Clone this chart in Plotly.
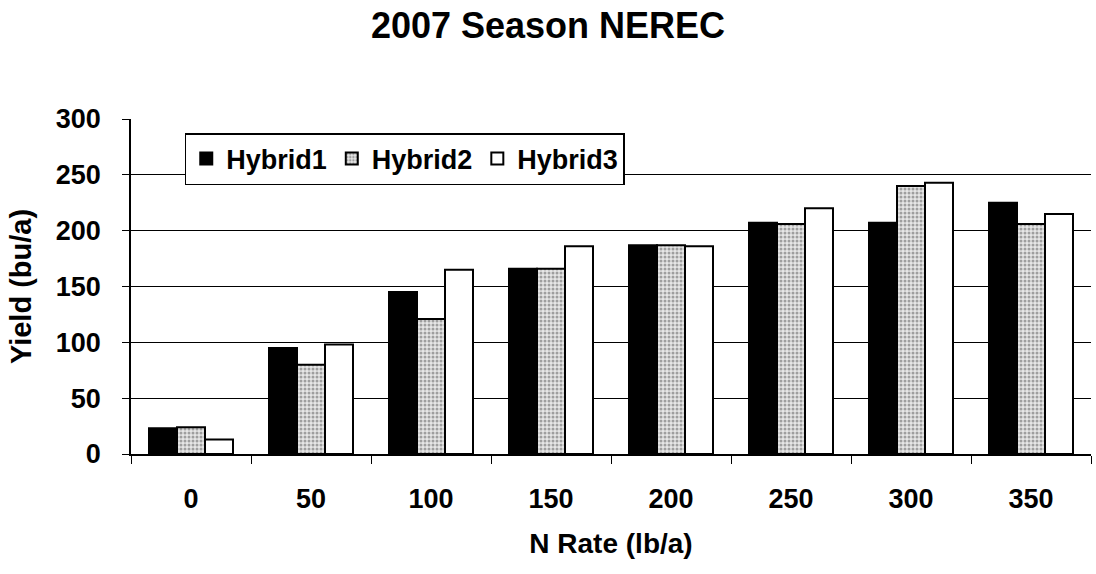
import plotly.graph_objects as go

n_rates = ["0", "50", "100", "150", "200", "250", "300", "350"]
hybrid1 = [23, 95, 145, 166, 187, 207, 207, 225]
hybrid2 = [24, 80, 121, 166, 187, 206, 240, 206]
hybrid3 = [13, 98, 165, 186, 186, 220, 243, 215]

font_family = "Arial, Liberation Sans, sans-serif"
outline = dict(color="black", width=2)
bold = dict(family=font_family, color="black", weight="bold")

fig = go.Figure()
fig.add_trace(go.Bar(name="Hybrid1", x=n_rates, y=hybrid1,
                     marker=dict(color="black", line=outline)))
fig.add_trace(go.Bar(name="Hybrid2", x=n_rates, y=hybrid2,
                     marker=dict(color="#e6e6e6", line=outline,
                                 pattern=dict(shape=".", fgcolor="#555555",
                                              bgcolor="#e6e6e6", size=4,
                                              solidity=0.45))))
fig.add_trace(go.Bar(name="Hybrid3", x=n_rates, y=hybrid3,
                     marker=dict(color="white", line=outline)))

fig.update_layout(
    width=1096, height=574,
    margin=dict(l=131, r=5, t=119, b=120),
    paper_bgcolor="white", plot_bgcolor="white",
    barmode="group", bargap=0.3, bargroupgap=0,
    font=dict(size=27, **bold),
    title=dict(text="2007 Season NEREC", x=0.5, xanchor="center",
               y=0.955, yanchor="middle", font=dict(size=36, **bold)),
    legend=dict(orientation="h", x=0.056, y=0.958, xanchor="left", yanchor="top",
                bgcolor="white", bordercolor="black", borderwidth=1.5,
                font=dict(size=27, **bold), traceorder="normal"),
    xaxis=dict(
        title=dict(text="N Rate (lb/a)", standoff=20, font=dict(size=28, **bold)),
        type="category",
        ticks="outside", tickson="boundaries", ticklen=8, tickcolor="black",
        showline=True, linecolor="black", linewidth=1.5,
        tickfont=dict(size=27, **bold), showgrid=False,
        ticklabelstandoff=20,
    ),
    yaxis=dict(
        title=dict(text="Yield (bu/a)", standoff=16, font=dict(size=29, **bold)),
        range=[0, 300], dtick=50,
        ticks="outside", ticklen=7, tickcolor="black",
        showline=True, linecolor="black", linewidth=1.5,
        showgrid=True, gridcolor="black", gridwidth=1,
        tickfont=dict(size=27, **bold), zeroline=False,
        ticklabelstandoff=16,
    ),
)

fig.write_html("out.html")
